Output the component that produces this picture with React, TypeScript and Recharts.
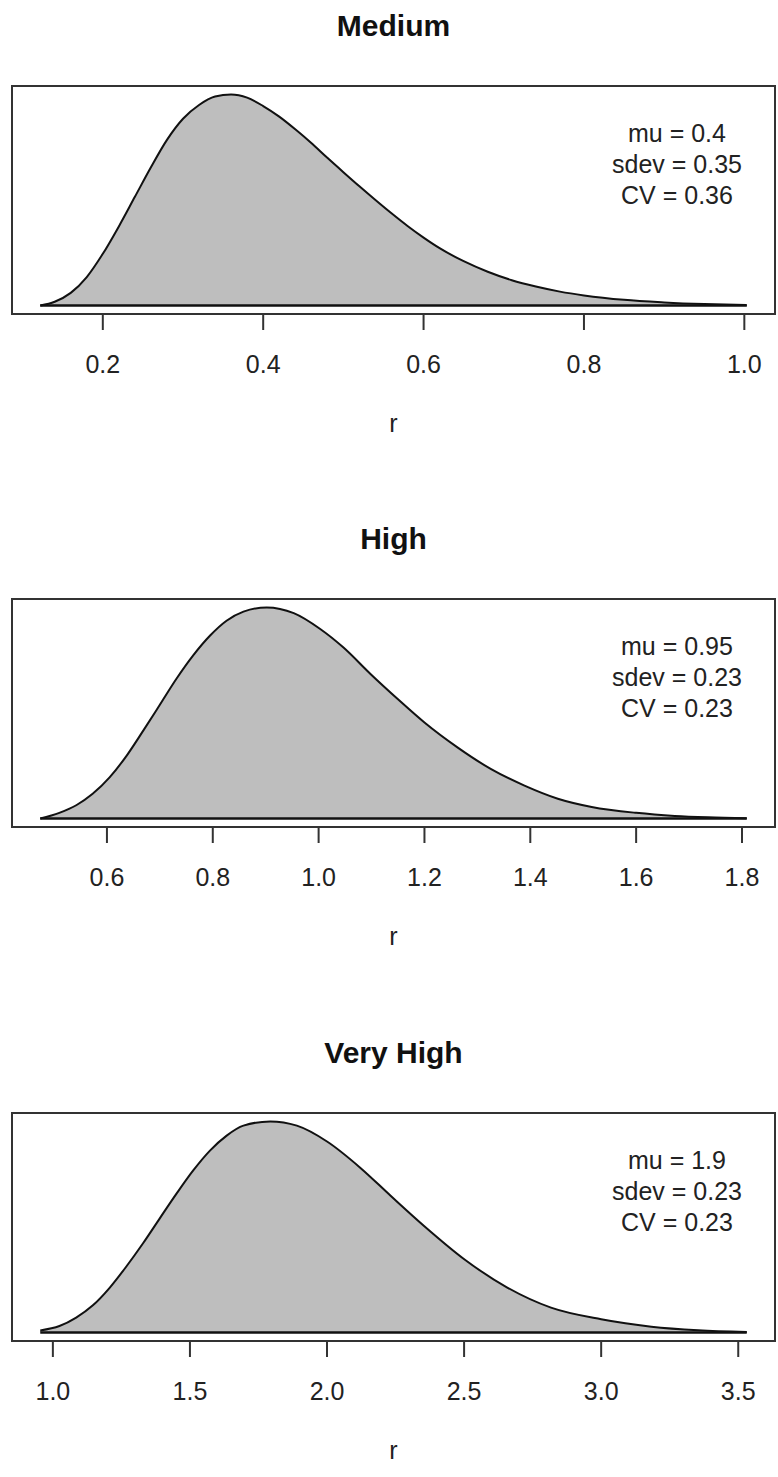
import React from "react";
import {
  ComposedChart,
  Area,
  XAxis,
  YAxis,
  ReferenceArea,
  ReferenceLine,
} from "recharts";

// values (r, relative density)
const mediumR = [
  0.122, 0.14, 0.16, 0.18, 0.2, 0.22, 0.24, 0.26, 0.28, 0.3, 0.32, 0.34, 0.36,
  0.38, 0.4, 0.42, 0.44, 0.46, 0.48, 0.5, 0.52, 0.54, 0.56, 0.58, 0.6, 0.62,
  0.65, 0.68, 0.71, 0.74, 0.77, 0.8, 0.85, 0.9, 0.95, 1.003,
];
const mediumDensity = [
  0, 0.018, 0.06, 0.135, 0.245, 0.375, 0.515, 0.655, 0.785, 0.885, 0.95, 0.99,
  1.0, 0.985, 0.945, 0.895, 0.835, 0.77, 0.7, 0.632, 0.565, 0.5, 0.437, 0.377,
  0.322, 0.272, 0.21, 0.16, 0.12, 0.09, 0.066, 0.048, 0.027, 0.015, 0.007,
  0.002,
];
const mediumTicks = [0.2, 0.4, 0.6, 0.8, 1.0];

const highR = [
  0.474, 0.51, 0.542, 0.573, 0.605, 0.637, 0.668, 0.7, 0.731, 0.763, 0.795,
  0.826, 0.858, 0.902, 0.953, 1.003, 1.047, 1.098, 1.15, 1.2, 1.263, 1.326,
  1.389, 1.452, 1.516, 1.6, 1.673, 1.736, 1.809,
];
const highDensity = [
  0, 0.027, 0.063, 0.117, 0.195, 0.297, 0.414, 0.539, 0.661, 0.773, 0.867,
  0.937, 0.98, 1.0, 0.973, 0.898, 0.81, 0.685, 0.565, 0.455, 0.336, 0.234,
  0.156, 0.094, 0.055, 0.027, 0.0125, 0.006, 0.002,
];
const highTicks = [0.6, 0.8, 1.0, 1.2, 1.4, 1.6, 1.8];

const veryHighR = [
  0.954, 1.024, 1.085, 1.146, 1.207, 1.268, 1.329, 1.39, 1.451, 1.512, 1.573,
  1.634, 1.695, 1.793, 1.89, 2.0, 2.122, 2.232, 2.354, 2.503, 2.659, 2.817,
  3.0, 3.183, 3.354, 3.531,
];
const veryHighDensity = [
  0.01, 0.031, 0.071, 0.129, 0.212, 0.313, 0.423, 0.541, 0.658, 0.768, 0.862,
  0.933, 0.98, 1.0, 0.98, 0.905, 0.78, 0.648, 0.505, 0.345, 0.212, 0.118,
  0.063, 0.028, 0.011, 0.003,
];
const veryHighTicks = [1.0, 1.5, 2.0, 2.5, 3.0, 3.5];

const titles = ["Medium", "High", "Very High"];
const statLines = [
  ["mu = 0.4", "sdev = 0.35", "CV = 0.36"],
  ["mu = 0.95", "sdev = 0.23", "CV = 0.23"],
  ["mu = 1.9", "sdev = 0.23", "CV = 0.23"],
];

const FONT = "'Liberation Sans', Arial, Helvetica, sans-serif";
const W = 778;
const H = 460;

const Panel = ({
  title,
  rs,
  dens,
  ticks,
  stats,
  top,
}: {
  title: string;
  rs: number[];
  dens: number[];
  ticks: number[];
  stats: string[];
  top: number;
}) => {
  const data = rs.map((r, i) => ({ r, density: dens[i] }));
  const rMin = Math.min(...rs);
  const rMax = Math.max(...rs);
  const pad = (rMax - rMin) * 0.04;
  const xDomain = [rMin - pad, rMax + pad];
  const dMax = Math.max(...dens);
  const yDomain = [-0.04 * dMax, 1.04 * dMax];

  return (
    <div style={{ position: "absolute", top, left: 0, width: W, height: H }}>
      <div
        style={{
          position: "absolute",
          top: 8,
          left: 12,
          width: 763,
          textAlign: "center",
          fontFamily: FONT,
          fontWeight: "bold",
          fontSize: 30,
          lineHeight: "36px",
          color: "#111",
        }}
      >
        {title}
      </div>
      <ComposedChart
        width={W}
        height={H}
        data={data}
        margin={{ top: 86, right: 3, left: 12, bottom: 0 }}
      >
        <XAxis
          dataKey="r"
          type="number"
          domain={xDomain}
          ticks={ticks}
          interval={0}
          allowDataOverflow
          height={146}
          axisLine={false}
          tickSize={16}
          tickMargin={25}
          tickLine={{ stroke: "#333", strokeWidth: 2 }}
          tick={{ fontSize: 25, fill: "#222", fontFamily: FONT }}
          tickFormatter={(v: number) => v.toFixed(1)}
          label={{
            value: "r",
            position: "insideBottom",
            offset: 28,
            fontSize: 25,
            fill: "#222",
            fontFamily: FONT,
          }}
        />
        <YAxis hide domain={yDomain} allowDataOverflow />
        <Area
          type="monotone"
          dataKey="density"
          fill="#bebebe"
          fillOpacity={1}
          stroke="#111"
          strokeWidth={2}
          dot={false}
          activeDot={false}
          isAnimationActive={false}
        />
        <ReferenceLine
          segment={[
            { x: rMin, y: 0 },
            { x: rMax, y: 0 },
          ]}
          stroke="#111"
          strokeWidth={2.5}
        />
        <ReferenceArea
          x1={xDomain[0]}
          x2={xDomain[1]}
          y1={yDomain[0]}
          y2={yDomain[1]}
          fill="none"
          stroke="#333"
          strokeWidth={2}
          ifOverflow="visible"
        />
      </ComposedChart>
      <div
        style={{
          position: "absolute",
          top: 118,
          left: 577,
          width: 200,
          textAlign: "center",
          fontFamily: FONT,
          fontSize: 25,
          lineHeight: "31px",
          color: "#222",
        }}
      >
        {stats.map((s) => (
          <div key={s}>{s}</div>
        ))}
      </div>
    </div>
  );
};

export default function App() {
  return (
    <div
      style={{
        position: "absolute",
        top: 0,
        left: 0,
        width: W,
        height: 1477,
        background: "#fff",
      }}
    >
      <Panel
        title={titles[0]}
        rs={mediumR}
        dens={mediumDensity}
        ticks={mediumTicks}
        stats={statLines[0]}
        top={0}
      />
      <Panel
        title={titles[1]}
        rs={highR}
        dens={highDensity}
        ticks={highTicks}
        stats={statLines[1]}
        top={513}
      />
      <Panel
        title={titles[2]}
        rs={veryHighR}
        dens={veryHighDensity}
        ticks={veryHighTicks}
        stats={statLines[2]}
        top={1027}
      />
    </div>
  );
}
